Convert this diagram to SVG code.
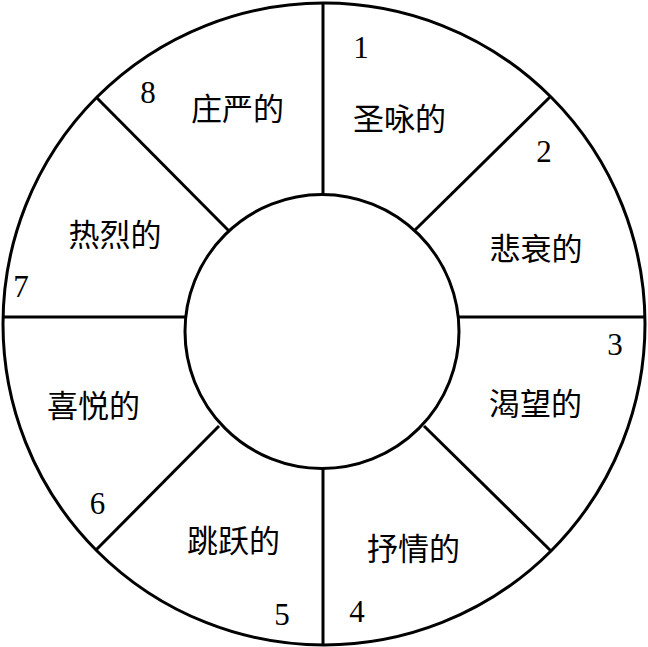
<svg xmlns="http://www.w3.org/2000/svg" width="648" height="647" viewBox="0 0 648 647">
<style>
.ring{fill:none;stroke:#000;stroke-width:3}
.div{stroke:#000;stroke-width:3;fill:none}
.lbl{font-family:"Liberation Serif","Noto Sans CJK SC",serif;font-size:31px;fill:#000;text-anchor:middle}
.num{font-family:"Liberation Serif",serif;font-size:31px;fill:#000;text-anchor:middle}
</style>
<rect width="648" height="647" fill="#fff"/>
<g id="outer-ring"><circle class="ring" cx="324" cy="324" r="321"/></g>
<g id="connectors">
<line class="div" x1="323" y1="3" x2="323" y2="195"/>
<line class="div" x1="323" y1="468" x2="323" y2="645"/>
<line class="div" x1="3" y1="317" x2="186" y2="317"/>
<line class="div" x1="458" y1="317" x2="645" y2="317"/>
<line class="div" x1="96" y1="97" x2="229" y2="231"/>
<line class="div" x1="551" y1="96" x2="415" y2="230"/>
<line class="div" x1="424" y1="426" x2="551" y2="551"/>
<line class="div" x1="219" y1="426" x2="96" y2="550"/>
</g>
<g id="center"><circle class="ring" cx="322" cy="331.5" r="137" fill="#fff"/></g>
<g id="sector-1"><text class="num" x="361" y="58">1</text><text class="lbl" x="399.5" y="130">圣咏的</text></g>
<g id="sector-2"><text class="num" x="544" y="162">2</text><text class="lbl" x="536" y="260">悲衰的</text></g>
<g id="sector-3"><text class="num" x="615" y="355">3</text><text class="lbl" x="535.5" y="415">渴望的</text></g>
<g id="sector-4"><text class="num" x="357" y="622">4</text><text class="lbl" x="413.5" y="560">抒情的</text></g>
<g id="sector-5"><text class="num" x="282" y="625">5</text><text class="lbl" x="233.5" y="552">跳跃的</text></g>
<g id="sector-6"><text class="num" x="97.5" y="514">6</text><text class="lbl" x="93.5" y="417">喜悦的</text></g>
<g id="sector-7"><text class="num" x="21" y="297">7</text><text class="lbl" x="115" y="246">热烈的</text></g>
<g id="sector-8"><text class="num" x="148" y="103">8</text><text class="lbl" x="237.5" y="120">庄严的</text></g>
</svg>
